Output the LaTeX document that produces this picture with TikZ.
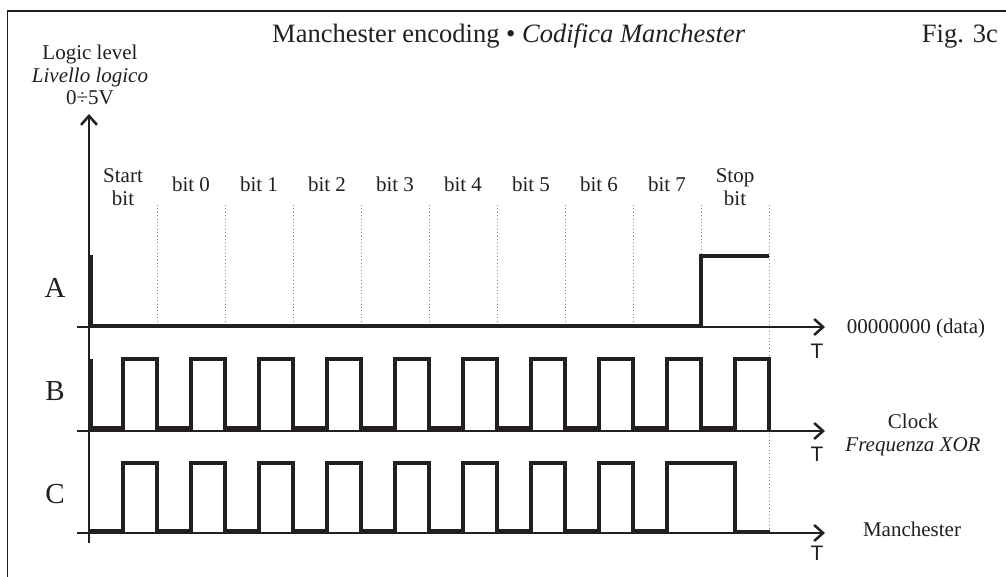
\documentclass[tikz,border=0pt]{standalone}
\usepackage{fontspec}
\setmainfont{Liberation Serif}
\newfontfamily\tsans{Liberation Sans}
\usetikzlibrary{arrows.meta}
\definecolor{ink}{RGB}{35,31,32}
\begin{document}
\begin{tikzpicture}[x=1pt,y=-1pt,
  frame/.style={ink, line width=1.5pt},
  axis/.style={ink, line width=2pt},
  axisarrow/.style={axis, -{Straight Barb[length=9pt,width=16pt,line width=2.5pt]}},
  wave/.style={ink, line width=3.6pt, line join=miter},
  gridline/.style={gray, line width=0.8pt, dash pattern=on 0.8pt off 2.6pt},
  lbl/.style={font=\fontsize{21}{23}\selectfont, inner sep=0pt, anchor=base, text=ink},
  ilbl/.style={lbl, font=\fontsize{21}{23}\selectfont\itshape},
  big/.style={font=\fontsize{29}{31}\selectfont, inner sep=0pt, anchor=base, text=ink},
  ttl/.style={font=\fontsize{26.5}{28}\selectfont, inner sep=0pt, text=ink},
  tlbl/.style={font=\fontsize{21}{23}\selectfont\tsans, inner sep=0pt, anchor=base, text=ink}
]
\useasboundingbox (0,0) rectangle (1006,577);
\fill[white] (0,0) rectangle (1006,577);
% frame
\coordinate (FBL) at (7.5,577);
\coordinate (FTL) at (7.5,11);
\coordinate (FTR) at (1006,11);
\draw[frame] (FBL) -- (FTL) -- (FTR);

% titles
\node[ttl, anchor=base west] (title) at (272,43) {Manchester encoding • \textit{Codifica Manchester}};
\node[ttl, anchor=base east] (fig) at (998,43) {Fig. 3c};

% y-axis label
\node[lbl] (ll1) at (90,60) {Logic level};
\node[ilbl] (ll2) at (90,83) {Livello logico};
\node[lbl] (ll3) at (90,105) {0÷5V};

% bit labels
\node[lbl] (st1) at (123,183) {Start};
\node[lbl] (st2) at (123,206) {bit};
\foreach \k in {0,...,7} {
  \node[lbl] (b\k) at ({191+68*\k},192) {bit \k};
}
\node[lbl] (sp1) at (735,183) {Stop};
\node[lbl] (sp2) at (735,206) {bit};

% dotted bit boundaries
\foreach \k in {1,...,9} {
  \draw[gridline] ({89+68*\k},205) -- ({89+68*\k},327);
}
\coordinate (G10t) at (769,205);
\coordinate (G10b) at (769,533);
\draw[gridline] (G10t) -- (G10b);

% axes
\coordinate (O) at (89,543);
\coordinate (Ytop) at (89,114);
\draw[axisarrow] (O) -- (Ytop);
\coordinate (A0) at (77,327); \coordinate (A1) at (825,327);
\coordinate (B0) at (77,431); \coordinate (B1) at (825,431);
\coordinate (C0) at (77,533); \coordinate (C1) at (825,533);
\draw[axisarrow] (A0) -- (A1);
\draw[axisarrow] (B0) -- (B1);
\draw[axisarrow] (C0) -- (C1);

% waveforms
\draw[wave] (91,255) -- (91,326) -- (701,326) -- (701,256) -- (769,256);
\draw[wave] (90.8,359) -- (90.8,428)
  \foreach \k in {0,...,9} { -- ({123+68*\k},428) -- ({123+68*\k},359) -- ({157+68*\k},359) -- ({157+68*\k},428) }
  -- (769,431);
\draw[wave] (89,531)
  \foreach \k in {0,...,7} { -- ({123+68*\k},531) -- ({123+68*\k},463) -- ({157+68*\k},463) -- ({157+68*\k},531) }
  -- (667,531) -- (667,463) -- (735,463) -- (735,532) -- (770,532);

% channel letters
\node[big] (la) at (55,297) {A};
\node[big] (lb) at (55,400) {B};
\node[big] (lc) at (55,503) {C};

% T labels
\node[tlbl] (ta) at (817,358) {T};
\node[tlbl] (tb) at (817,461) {T};
\node[tlbl] (tc) at (817,560) {T};

% right labels
\node[lbl] (ra) at (916,333) {00000000 (data)};
\node[lbl] (rb1) at (913,428) {Clock};
\node[ilbl] (rb2) at (913,451) {Frequenza XOR};
\node[lbl] (rc) at (912,536) {Manchester};
\end{tikzpicture}
\end{document}
